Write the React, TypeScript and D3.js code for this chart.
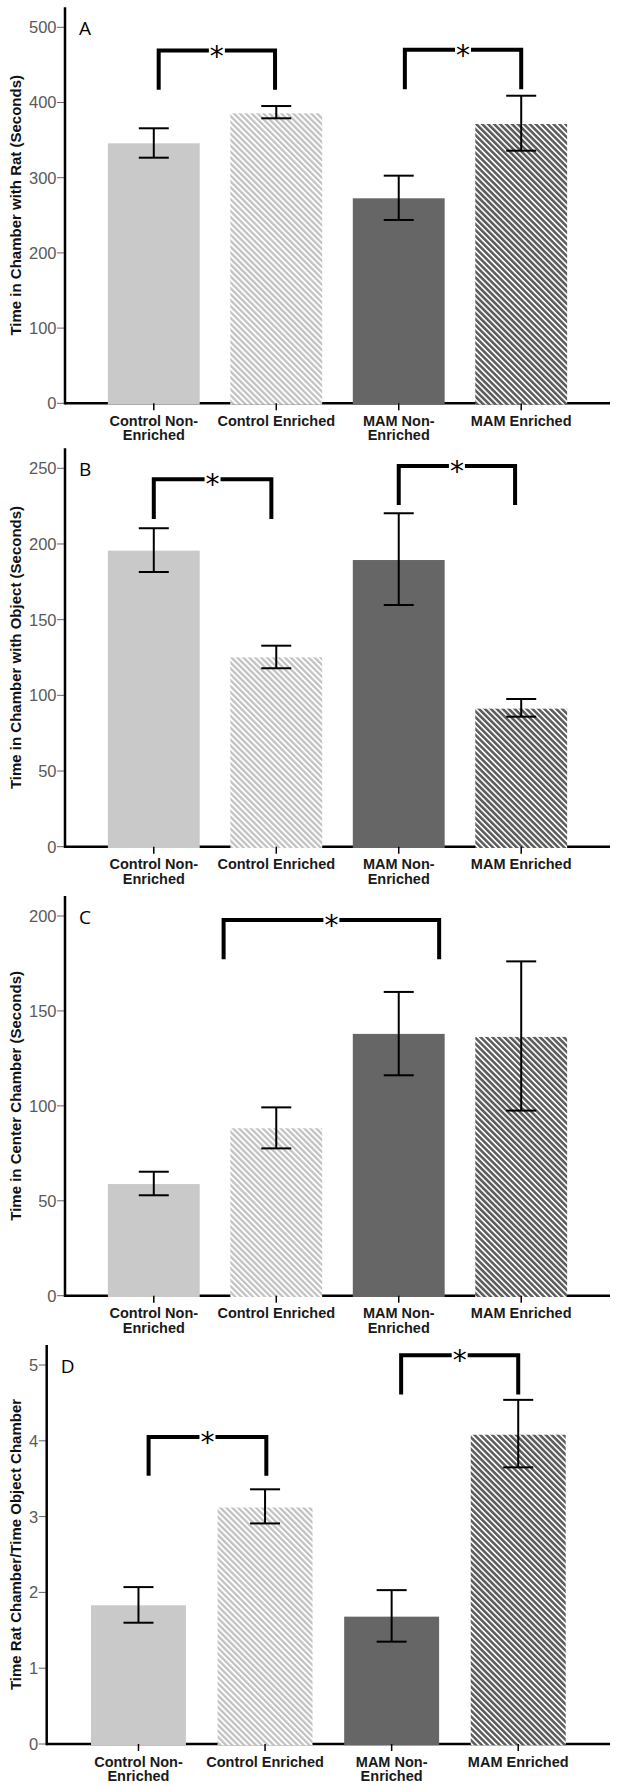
import React from "react";
import * as d3 from "d3";

// ---------- DATA ----------
const categories = ["Control Non-Enriched", "Control Enriched", "MAM Non-Enriched", "MAM Enriched"];
const categoryLines = [["Control Non-", "Enriched"], ["Control Enriched"], ["MAM Non-", "Enriched"], ["MAM Enriched"]];

const ratMeans = [345.7, 385.6, 272.6, 371.4];
const ratLow = [326.6, 379.0, 243.8, 335.9];
const ratHigh = [365.7, 395.3, 302.7, 409.0];
const ratTicks = [0, 100, 200, 300, 400, 500];

const objMeans = [195.6, 125.1, 189.4, 91.2];
const objLow = [181.5, 117.9, 159.7, 85.9];
const objHigh = [210.4, 132.8, 220.3, 97.6];
const objTicks = [0, 50, 100, 150, 200, 250];

const centerMeans = [58.8, 88.2, 137.9, 136.3];
const centerLow = [52.9, 77.6, 116.1, 97.5];
const centerHigh = [65.3, 99.2, 160.0, 176.1];
const centerTicks = [0, 50, 100, 150, 200];

const ratioMeans = [1.83, 3.12, 1.68, 4.08];
const ratioLow = [1.6, 2.91, 1.35, 3.65];
const ratioHigh = [2.07, 3.36, 2.03, 4.54];
const ratioTicks = [0, 1, 2, 3, 4, 5];

// significance brackets: from/to in category-index units, top & leg-end in data units
const ratBrackets = [
  { from: 0.04, to: 0.99, top: 469, base: 417 },
  { from: 2.05, to: 3.0, top: 470, base: 417.5 },
];
const objBrackets = [
  { from: 0.0, to: 0.96, top: 242.7, base: 216.5 },
  { from: 2.0, to: 2.95, top: 251.5, base: 225.8 },
];
const centerBrackets = [{ from: 0.57, to: 2.33, top: 197.9, base: 177.2 }];
const ratioBrackets = [
  { from: 0.08, to: 1.01, top: 4.05, base: 3.54 },
  { from: 2.075, to: 3.0, top: 5.13, base: 4.61 },
];

// ---------- LAYOUT ----------
const W = 617;
const H = 1788;
const RIGHT = 610;

const panels = [
  { letter: "A", title: "Time in Chamber with Rat (Seconds)", means: ratMeans, low: ratLow, high: ratHigh, ticks: ratTicks, brackets: ratBrackets, left: 65, zeroY: 403.3, topTickY: 27.3 },
  { letter: "B", title: "Time in Chamber with Object (Seconds)", means: objMeans, low: objLow, high: objHigh, ticks: objTicks, brackets: objBrackets, left: 65, zeroY: 846.7, topTickY: 468.3 },
  { letter: "C", title: "Time in Center Chamber (Seconds)", means: centerMeans, low: centerLow, high: centerHigh, ticks: centerTicks, brackets: centerBrackets, left: 65, zeroY: 1295.7, topTickY: 916 },
  { letter: "D", title: "Time Rat Chamber/Time Object Chamber", means: ratioMeans, low: ratioLow, high: ratioHigh, ticks: ratioTicks, brackets: ratioBrackets, left: 46.7, zeroY: 1744, topTickY: 1365 },
];

const fills = ["#c9c9c9", "url(#hatchLight)", "#666666", "url(#hatchDark)"];

const SANS = "Arial, 'Liberation Sans', Helvetica, sans-serif";

function Panel({ p }: { p: any }) {
  const x = d3.scaleBand<string>().domain(categories).range([p.left, RIGHT]).paddingInner(0.25).paddingOuter(0.35);
  const maxTick = p.ticks[p.ticks.length - 1];
  const y = d3.scaleLinear().domain([0, maxTick]).range([p.zeroY, p.topTickY]);
  const bw = x.bandwidth();
  const cx = (i: number) => (x(categories[i]) as number) + bw / 2;
  const idx = d3.scaleLinear().domain([0, 3]).range([cx(0), cx(3)]);
  const axisTop = p.topTickY - 20;
  const capW = 30;
  const gap = 8;

  return (
    <g>
      <text
        transform={`translate(15,${(axisTop + p.zeroY) / 2}) rotate(-90)`}
        textAnchor="middle"
        dominantBaseline="central"
        fontFamily={SANS}
        fontWeight="bold"
        fontSize={15}
        fill="#111"
      >
        {p.title}
      </text>
      {p.ticks.map((t: number) => (
        <g key={t}>
          <line x1={p.left - 8} x2={p.left} y1={y(t)} y2={y(t)} stroke="#666" strokeWidth={1} />
          <text x={p.left - 8.5} y={y(t)} dy="0.36em" textAnchor="end" fontFamily={SANS} fontSize={16.5} fill="#5a5a5a">
            {t}
          </text>
        </g>
      ))}
      <line x1={p.left} x2={RIGHT} y1={p.zeroY} y2={p.zeroY} stroke="#000" strokeWidth={2.5} />
      {p.means.map((m: number, i: number) => (
        <rect key={i} x={x(categories[i])} y={y(m)} width={bw} height={p.zeroY + 1.3 - y(m)} fill={fills[i]} />
      ))}
      <line x1={p.left} x2={p.left} y1={axisTop} y2={p.zeroY + 1.25} stroke="#000" strokeWidth={2.5} />
      {categories.map((c, i) => (
        <g key={c}>
          <line x1={cx(i)} x2={cx(i)} y1={p.zeroY} y2={p.zeroY + 7} stroke="#000" strokeWidth={1.5} />
          {categoryLines[i].map((ln, k) => (
            <text key={k} x={cx(i)} y={p.zeroY + 22.5 + k * 14.5} textAnchor="middle" fontFamily={SANS} fontWeight="bold" fontSize={14.5} fill="#1a1a1a">
              {ln}
            </text>
          ))}
        </g>
      ))}
      {p.means.map((m: number, i: number) => (
        <g key={i} stroke="#000" strokeWidth={2}>
          <line x1={cx(i)} x2={cx(i)} y1={y(p.high[i])} y2={y(p.low[i])} />
          <line x1={cx(i) - capW / 2} x2={cx(i) + capW / 2} y1={y(p.high[i])} y2={y(p.high[i])} />
          <line x1={cx(i) - capW / 2} x2={cx(i) + capW / 2} y1={y(p.low[i])} y2={y(p.low[i])} />
        </g>
      ))}
      {p.brackets.map((b: any, k: number) => {
        const xl = idx(b.from);
        const xr = idx(b.to);
        const yt = y(b.top);
        const yb = y(b.base);
        const mid = (xl + xr) / 2;
        return (
          <g key={k}>
            <path d={`M${xl},${yb}V${yt}H${mid - gap}`} fill="none" stroke="#000" strokeWidth={4} strokeLinejoin="miter" />
            <path d={`M${mid + gap},${yt}H${xr}V${yb}`} fill="none" stroke="#000" strokeWidth={4} strokeLinejoin="miter" />
            <text x={mid} y={yt + 15} textAnchor="middle" fontFamily="'DejaVu Sans', sans-serif" fontSize={28} fill="#000">
              *
            </text>
          </g>
        );
      })}
      <text x={p.left + 14} y={p.topTickY + 8} fontFamily="'Open Sans', 'Noto Sans', sans-serif" fontSize={19} fill="#000">
        {p.letter}
      </text>
    </g>
  );
}

export default function App() {
  return (
    <svg width={W} height={H} viewBox={`0 0 ${W} ${H}`} style={{ position: "absolute", left: 0, top: 0, background: "#fff" }}>
      <defs>
        <pattern id="hatchLight" patternUnits="userSpaceOnUse" width={4.2} height={4.2} patternTransform="rotate(-45)">
          <rect x={0} y={0} width={4.2} height={4.2} fill="#ffffff" />
          <rect x={0} y={0} width={2.3} height={4.2} fill="#c2c2c2" />
        </pattern>
        <pattern id="hatchDark" patternUnits="userSpaceOnUse" width={4.2} height={4.2} patternTransform="rotate(-45)">
          <rect x={0} y={0} width={4.2} height={4.2} fill="#ffffff" />
          <rect x={0} y={0} width={2.6} height={4.2} fill="#5e5e5e" />
        </pattern>
      </defs>
      <rect x={0} y={0} width={W} height={H} fill="#fff" />
      {panels.map((p) => (
        <Panel key={p.letter} p={p} />
      ))}
    </svg>
  );
}
